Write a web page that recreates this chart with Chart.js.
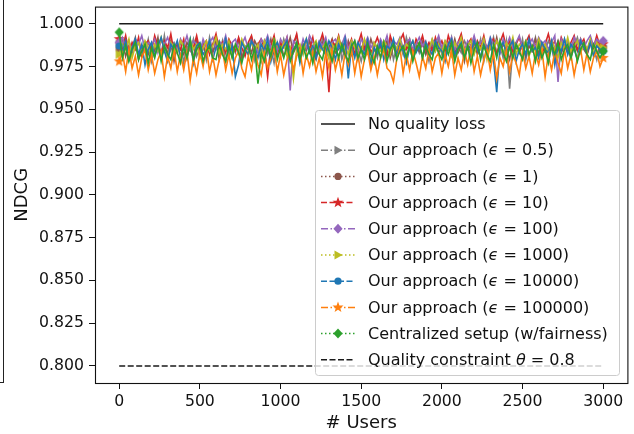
<!DOCTYPE html>
<html>
<head>
<meta charset="utf-8">
<script src="https://cdn.jsdelivr.net/npm/chart.js@4"></script>
<style>
  body { margin: 0; background: #fff; }
  #wrap { position: relative; width: 634px; height: 434px; }
  #edge { position: absolute; left: -1px; top: 0; width: 4px; height: 382px; border-right: 1.5px solid #222; border-bottom: 1px solid #222; }
</style>
</head>
<body>
<div id="wrap">
  <canvas id="ndcgChart" width="634" height="434"></canvas>
  <div id="edge"></div>
</div>
<script>
// x positions (number of users), sampled every 20 users
const users = Array.from({ length: 151 }, (_, i) => i * 20);
const lineEnds = [0, 3000];
const xTicks = [0, 500, 1000, 1500, 2000, 2500, 3000];
const yTicks = [0.8, 0.825, 0.85, 0.875, 0.9, 0.925, 0.95, 0.975, 1.0];

const noLoss = [1.0, 1.0];
const constraint = [0.8, 0.8];

const eps05 = [
  0.988,0.983,0.990,0.979,0.986,0.992,0.981,0.987,0.984,0.991,
  0.978,0.986,0.989,0.982,0.993,0.980,0.985,0.988,0.983,0.990,
  0.977,0.987,0.984,0.991,0.981,0.986,0.989,0.979,0.992,0.984,
  0.987,0.982,0.990,0.978,0.986,0.988,0.983,0.991,0.980,0.987,
  0.985,0.992,0.979,0.988,0.984,0.990,0.982,0.986,0.977,0.989,
  0.983,0.991,0.985,0.980,0.988,0.993,0.981,0.986,0.984,0.990,
  0.978,0.987,0.983,0.991,0.985,0.980,0.989,0.984,0.992,0.979,
  0.986,0.988,0.982,0.990,0.985,0.978,0.987,0.991,0.983,0.986,
  0.980,0.989,0.988,0.984,0.991,0.979,0.986,0.989,0.982,0.992,
  0.985,0.980,0.988,0.983,0.990,0.986,0.978,0.989,0.984,0.991,
  0.982,0.988,0.985,0.992,0.979,0.987,0.983,0.990,0.986,0.981,
  0.989,0.984,0.991,0.978,0.987,0.985,0.992,0.982,0.988,0.980,
  0.990,0.962,0.986,0.989,0.983,0.991,0.979,0.987,0.985,0.992,
  0.981,0.988,0.984,0.990,0.986,0.978,0.989,0.983,0.991,0.985,
  0.980,0.987,0.992,0.984,0.988,0.982,0.990,0.986,0.979,0.989,
  0.987
];
const eps1 = [
  0.985,0.990,0.981,0.987,0.983,0.991,0.979,0.986,0.989,0.982,
  0.988,0.984,0.992,0.980,0.986,0.983,0.990,0.978,0.987,0.985,
  0.982,0.989,0.986,0.980,0.991,0.984,0.987,0.981,0.988,0.983,
  0.990,0.979,0.986,0.984,0.989,0.982,0.987,0.991,0.980,0.985,
  0.988,0.983,0.990,0.986,0.978,0.987,0.984,0.991,0.982,0.986,
  0.989,0.981,0.985,0.992,0.983,0.987,0.980,0.988,0.985,0.990,
  0.984,0.979,0.987,0.989,0.982,0.986,0.991,0.983,0.985,0.988,
  0.981,0.990,0.984,0.987,0.979,0.986,0.989,0.983,0.991,0.985,
  0.982,0.988,0.984,0.990,0.980,0.987,0.985,0.989,0.983,0.986,
  0.991,0.981,0.987,0.984,0.989,0.982,0.988,0.985,0.990,0.983,
  0.986,0.980,0.989,0.984,0.991,0.983,0.987,0.978,0.988,0.985,
  0.990,0.982,0.986,0.989,0.981,0.987,0.984,0.992,0.983,0.988,
  0.985,0.979,0.990,0.986,0.983,0.988,0.981,0.987,0.984,0.991,
  0.982,0.989,0.985,0.980,0.988,0.984,0.990,0.983,0.987,0.986,
  0.981,0.989,0.984,0.991,0.985,0.982,0.988,0.986,0.990,0.983,
  0.986
];
const eps10 = [
  0.991,0.986,0.993,0.983,0.989,0.985,0.992,0.981,0.988,0.990,
  0.984,0.993,0.987,0.982,0.990,0.986,0.994,0.983,0.988,0.985,
  0.991,0.980,0.989,0.986,0.993,0.984,0.987,0.990,0.982,0.988,
  0.994,0.985,0.989,0.983,0.991,0.987,0.984,0.992,0.986,0.981,
  0.989,0.993,0.985,0.988,0.991,0.986,0.969,0.987,0.993,0.982,
  0.989,0.986,0.992,0.984,0.988,0.994,0.983,0.987,0.990,0.985,
  0.992,0.981,0.988,0.994,0.986,0.960,0.990,0.987,0.993,0.984,
  0.989,0.986,0.991,0.982,0.988,0.994,0.985,0.990,0.983,0.987,
  0.992,0.986,0.989,0.981,0.993,0.987,0.984,0.990,0.994,0.985,
  0.988,0.983,0.991,0.987,0.993,0.985,0.989,0.984,0.992,0.986,
  0.990,0.984,0.993,0.987,0.982,0.989,0.994,0.985,0.988,0.991,
  0.983,0.990,0.986,0.993,0.984,0.988,0.991,0.982,0.989,0.994,
  0.986,0.990,0.983,0.988,0.992,0.985,0.989,0.993,0.984,0.987,
  0.991,0.982,0.988,0.994,0.986,0.990,0.984,0.992,0.987,0.983,
  0.989,0.993,0.985,0.988,0.991,0.984,0.990,0.986,0.993,0.987,
  0.988
];
const eps100 = [
  0.989,0.992,0.986,0.990,0.984,0.991,0.988,0.993,0.985,0.989,
  0.987,0.991,0.983,0.990,0.988,0.992,0.986,0.989,0.984,0.991,
  0.987,0.993,0.985,0.990,0.988,0.982,0.991,0.986,0.989,0.992,
  0.985,0.990,0.987,0.993,0.984,0.989,0.991,0.986,0.988,0.992,
  0.985,0.990,0.987,0.983,0.991,0.988,0.993,0.986,0.989,0.984,
  0.991,0.987,0.992,0.961,0.990,0.988,0.983,0.991,0.986,0.993,
  0.989,0.985,0.990,0.987,0.992,0.984,0.989,0.991,0.986,0.988,
  0.993,0.985,0.990,0.987,0.982,0.991,0.988,0.992,0.986,0.989,
  0.985,0.991,0.987,0.993,0.984,0.990,0.988,0.992,0.986,0.989,
  0.991,0.985,0.988,0.992,0.987,0.990,0.984,0.991,0.988,0.993,
  0.986,0.990,0.987,0.992,0.985,0.989,0.991,0.984,0.990,0.987,
  0.993,0.986,0.989,0.991,0.985,0.992,0.988,0.990,0.983,0.991,
  0.987,0.992,0.986,0.989,0.993,0.985,0.990,0.988,0.991,0.986,
  0.992,0.988,0.990,0.985,0.989,0.993,0.966,0.991,0.987,0.990,
  0.985,0.992,0.988,0.991,0.986,0.990,0.993,0.987,0.991,0.989,
  0.990
];
const eps1000 = [
  0.982,0.988,0.985,0.991,0.980,0.987,0.989,0.983,0.990,0.986,
  0.981,0.988,0.984,0.992,0.985,0.979,0.989,0.986,0.983,0.990,
  0.987,0.982,0.991,0.985,0.988,0.980,0.986,0.990,0.984,0.987,
  0.992,0.983,0.988,0.985,0.990,0.981,0.987,0.984,0.991,0.986,
  0.982,0.989,0.985,0.988,0.979,0.990,0.986,0.983,0.991,0.987,
  0.984,0.989,0.981,0.986,0.968,0.985,0.988,0.982,0.991,0.984,
  0.987,0.990,0.983,0.986,0.989,0.980,0.988,0.985,0.992,0.984,
  0.987,0.982,0.990,0.986,0.988,0.983,0.991,0.985,0.978,0.989,
  0.986,0.984,0.990,0.987,0.982,0.989,0.985,0.991,0.983,0.988,
  0.986,0.990,0.984,0.987,0.981,0.989,0.985,0.991,0.984,0.988,
  0.983,0.990,0.986,0.981,0.989,0.985,0.992,0.984,0.987,0.990,
  0.982,0.988,0.985,0.991,0.979,0.987,0.984,0.990,0.986,0.983,
  0.989,0.985,0.992,0.982,0.988,0.986,0.990,0.981,0.987,0.984,
  0.991,0.985,0.988,0.983,0.990,0.986,0.980,0.989,0.985,0.992,
  0.984,0.987,0.990,0.983,0.988,0.985,0.991,0.982,0.989,0.986,
  0.986
];
const eps10000 = [
  0.987,0.983,0.990,0.979,0.986,0.991,0.982,0.988,0.976,0.985,
  0.989,0.981,0.987,0.992,0.984,0.978,0.988,0.985,0.990,0.980,
  0.986,0.983,0.991,0.977,0.987,0.989,0.982,0.985,0.990,0.979,
  0.986,0.988,0.983,0.991,0.981,0.987,0.969,0.976,0.989,0.985,
  0.982,0.990,0.986,0.980,0.988,0.984,0.991,0.978,0.986,0.989,
  0.983,0.987,0.990,0.981,0.985,0.988,0.977,0.986,0.991,0.983,
  0.987,0.980,0.989,0.985,0.982,0.990,0.986,0.979,0.988,0.984,
  0.991,0.968,0.987,0.980,0.989,0.985,0.982,0.990,0.975,0.986,
  0.983,0.989,0.979,0.987,0.985,0.991,0.981,0.988,0.984,0.977,
  0.986,0.990,0.983,0.987,0.980,0.989,0.985,0.982,0.990,0.986,
  0.984,0.978,0.988,0.991,0.982,0.986,0.989,0.980,0.987,0.983,
  0.990,0.985,0.981,0.988,0.984,0.991,0.979,0.960,0.986,0.989,
  0.983,0.987,0.990,0.978,0.985,0.988,0.982,0.991,0.984,0.986,
  0.980,0.989,0.985,0.983,0.990,0.976,0.987,0.984,0.991,0.982,
  0.988,0.985,0.979,0.990,0.986,0.983,0.989,0.981,0.987,0.985,
  0.984
];
const eps100000 = [
  0.978,0.983,0.972,0.985,0.974,0.981,0.970,0.980,0.985,0.973,
  0.982,0.971,0.979,0.984,0.969,0.981,0.974,0.985,0.972,0.982,
  0.973,0.984,0.967,0.980,0.971,0.983,0.975,0.986,0.972,0.981,
  0.970,0.979,0.985,0.973,0.982,0.971,0.980,0.984,0.974,0.969,
  0.981,0.973,0.985,0.976,0.970,0.983,0.974,0.980,0.986,0.972,
  0.982,0.970,0.979,0.984,0.973,0.981,0.985,0.971,0.982,0.975,
  0.984,0.972,0.980,0.969,0.983,0.974,0.985,0.973,0.981,0.970,
  0.983,0.976,0.985,0.971,0.982,0.969,0.979,0.984,0.973,0.981,
  0.970,0.980,0.985,0.974,0.972,0.966,0.979,0.986,0.971,0.982,
  0.973,0.984,0.977,0.969,0.981,0.974,0.985,0.972,0.980,0.983,
  0.971,0.982,0.975,0.985,0.970,0.980,0.973,0.984,0.976,0.986,
  0.972,0.981,0.970,0.979,0.985,0.973,0.983,0.968,0.980,0.975,
  0.985,0.972,0.982,0.977,0.970,0.984,0.974,0.981,0.971,0.983,
  0.976,0.985,0.969,0.982,0.973,0.984,0.977,0.971,0.985,0.974,
  0.982,0.970,0.980,0.985,0.973,0.983,0.972,0.980,0.984,0.975,
  0.980
];
const centralized = [
  0.995,0.980,0.987,0.978,0.985,0.989,0.979,0.984,0.988,0.977,
  0.986,0.980,0.989,0.978,0.987,0.982,0.979,0.988,0.983,0.977,
  0.987,0.980,0.990,0.979,0.985,0.988,0.978,0.984,0.987,0.980,
  0.979,0.989,0.982,0.978,0.987,0.980,0.988,0.983,0.977,0.985,
  0.988,0.979,0.986,0.965,0.983,0.978,0.987,0.981,0.990,0.979,
  0.986,0.980,0.988,0.978,0.984,0.989,0.979,0.987,0.980,0.985,
  0.977,0.988,0.982,0.979,0.989,0.984,0.978,0.987,0.980,0.988,
  0.982,0.978,0.987,0.990,0.980,0.985,0.979,0.988,0.982,0.977,
  0.987,0.980,0.989,0.978,0.985,0.988,0.979,0.984,0.987,0.980,
  0.988,0.978,0.985,0.989,0.980,0.987,0.982,0.979,0.988,0.983,
  0.979,0.987,0.982,0.989,0.978,0.985,0.988,0.980,0.987,0.977,
  0.985,0.989,0.979,0.987,0.982,0.978,0.988,0.980,0.990,0.983,
  0.978,0.987,0.980,0.988,0.984,0.979,0.989,0.982,0.987,0.978,
  0.988,0.980,0.985,0.977,0.987,0.982,0.989,0.979,0.985,0.988,
  0.980,0.987,0.978,0.985,0.989,0.982,0.979,0.988,0.984,0.980,
  0.984
];

const FONT = '"DejaVu Sans", sans-serif';
const DASHED = [6, 2.5];
const DASHDOT = [7, 2.5, 1.5, 2.5];
const DOTTED = [1.5, 2.5];

// draw a matplotlib-like marker centred on (x, y)
function drawMarker(ctx, type, x, y, color) {
  ctx.save();
  ctx.fillStyle = color;
  ctx.beginPath();
  if (type === 'tri') {
    ctx.moveTo(x + 4.5, y);
    ctx.lineTo(x - 3.5, y - 4.5);
    ctx.lineTo(x - 3.5, y + 4.5);
  } else if (type === 'circle') {
    ctx.arc(x, y, 3.6, 0, Math.PI * 2);
  } else if (type === 'star') {
    for (let k = 0; k < 10; k++) {
      const r = k % 2 === 0 ? 5.8 : 2.4;
      const a = -Math.PI / 2 + k * Math.PI / 5;
      ctx.lineTo(x + r * Math.cos(a), y + r * Math.sin(a));
    }
  } else if (type === 'diamond') {
    ctx.moveTo(x, y - 5);
    ctx.lineTo(x + 4.6, y);
    ctx.lineTo(x, y + 5);
    ctx.lineTo(x - 4.6, y);
  }
  ctx.closePath();
  ctx.fill();
  ctx.restore();
}

function markerImage(type, color) {
  const c = document.createElement('canvas');
  c.width = 14; c.height = 14;
  drawMarker(c.getContext('2d'), type, 7, 7, color);
  return c;
}

const series = [
  { label: 'Our approach (', sym: 'ϵ', tail: ' = 0.5)', data: eps05, color: '#7f7f7f', dash: DASHDOT, marker: 'tri' },
  { label: 'Our approach (', sym: 'ϵ', tail: ' = 1)', data: eps1, color: '#8c564b', dash: DOTTED, marker: 'circle' },
  { label: 'Our approach (', sym: 'ϵ', tail: ' = 10)', data: eps10, color: '#d62728', dash: DASHED, marker: 'star' },
  { label: 'Our approach (', sym: 'ϵ', tail: ' = 100)', data: eps100, color: '#9467bd', dash: DASHDOT, marker: 'diamond' },
  { label: 'Our approach (', sym: 'ϵ', tail: ' = 1000)', data: eps1000, color: '#bcbd22', dash: DOTTED, marker: 'tri' },
  { label: 'Our approach (', sym: 'ϵ', tail: ' = 10000)', data: eps10000, color: '#1f77b4', dash: DASHED, marker: 'circle' },
  { label: 'Our approach (', sym: 'ϵ', tail: ' = 100000)', data: eps100000, color: '#ff7f0e', dash: DASHDOT, marker: 'star' },
  { label: 'Centralized setup (w/fairness)', sym: '', tail: '', data: centralized, color: '#2ca02c', dash: DOTTED, marker: 'diamond' }
];

const toPoints = (xs, ys) => ys.map((y, i) => ({ x: xs[i], y }));
const lastIdx = users.length - 1;

const datasets = [
  { data: toPoints(lineEnds, noLoss), borderColor: '#1a1a1a', borderWidth: 1.5, pointRadius: 0 }
];
series.forEach(s => {
  const img = markerImage(s.marker, s.color);
  datasets.push({
    data: toPoints(users, s.data),
    borderColor: s.color,
    borderWidth: 1.6,
    pointStyle: img,
    pointRadius: ctx => (ctx.dataIndex === 0 || ctx.dataIndex === lastIdx) ? 5 : 0,
    pointHoverRadius: 0
  });
});
datasets.push({ data: toPoints(lineEnds, constraint), borderColor: '#1a1a1a', borderWidth: 1.5, borderDash: DASHED, pointRadius: 0 });
datasets.forEach((d, i) => { d.order = datasets.length - i; d.tension = 0; d.fill = false; });

// legend entries drawn inside the axes, lower right
const legendRows = [
  { parts: [['No quality loss', false]], color: '#1a1a1a', dash: [], marker: null },
  ...series.map(s => ({ parts: [[s.label, false], [s.sym, true], [s.tail, false]], color: s.color, dash: s.dash, marker: s.marker })),
  { parts: [['Quality constraint ', false], ['θ', true], [' = 0.8', false]], color: '#1a1a1a', dash: DASHED, marker: null }
];

const framePlugin = {
  id: 'frameAndLegend',
  afterDraw(chart) {
    const { ctx, chartArea: a } = chart;
    ctx.save();
    // legend box
    const bx = 315.5, by = 110.5, bw = 304, bh = 265;
    ctx.beginPath();
    ctx.roundRect(bx, by, bw, bh, 3);
    ctx.fillStyle = 'rgba(255,255,255,0.8)';
    ctx.fill();
    ctx.strokeStyle = '#cccccc';
    ctx.lineWidth = 1;
    ctx.stroke();
    legendRows.forEach((row, k) => {
      const y = 124 + k * 26.2;
      ctx.beginPath();
      ctx.setLineDash(row.dash);
      ctx.strokeStyle = row.color;
      ctx.lineWidth = 1.5;
      ctx.moveTo(321, y);
      ctx.lineTo(355, y);
      ctx.stroke();
      ctx.setLineDash([]);
      if (row.marker) drawMarker(ctx, row.marker, 338, y, row.color);
      let tx = 368;
      ctx.fillStyle = '#111';
      ctx.textBaseline = 'middle';
      ctx.textAlign = 'left';
      row.parts.forEach(([txt, it]) => {
        if (!txt) return;
        ctx.font = (it ? 'italic ' : '') + '16px ' + FONT;
        ctx.fillText(txt, tx, y + 1);
        tx += ctx.measureText(txt).width;
      });
    });
    // axes frame
    ctx.strokeStyle = '#111';
    ctx.lineWidth = 1.1;
    ctx.strokeRect(a.left + 0.5, a.top + 0.5, a.right - a.left, a.bottom - a.top);
    ctx.restore();
  }
};

new Chart(document.getElementById('ndcgChart'), {
  type: 'line',
  data: { datasets },
  options: {
    responsive: false,
    animation: false,
    layout: { padding: { top: 5, right: 6, left: 0, bottom: 0 } },
    plugins: { legend: { display: false }, tooltip: { enabled: false } },
    scales: {
      x: {
        type: 'linear',
        min: -150,
        max: 3150,
        afterBuildTicks: s => { s.ticks = xTicks.map(v => ({ value: v })); },
        afterFit: s => { s.height = 51; s.paddingLeft = 0; s.paddingRight = 0; },
        ticks: { color: '#111', font: { family: FONT, size: 15.7 }, padding: 4, maxRotation: 0, autoSkip: false, callback: v => String(v) },
        grid: { drawOnChartArea: false, tickLength: 6, color: '#111' },
        border: { display: false },
        title: { display: true, text: '# Users', color: '#111', font: { family: FONT, size: 18 }, padding: { top: 0, bottom: 0 } }
      },
      y: {
        min: 0.79,
        max: 1.01,
        afterBuildTicks: s => { s.ticks = yTicks.map(v => ({ value: v })); },
        afterFit: s => { s.width = 95; s.paddingTop = 0; s.paddingBottom = 0; },
        ticks: { color: '#111', font: { family: FONT, size: 15.7 }, padding: 5, callback: v => v.toFixed(3) },
        grid: { drawOnChartArea: false, tickLength: 6, color: '#111' },
        border: { display: false },
        title: { display: true, text: 'NDCG', color: '#111', font: { family: FONT, size: 18 }, padding: { top: 12, bottom: 0 } }
      }
    }
  },
  plugins: [framePlugin]
});
</script>
</body>
</html>
